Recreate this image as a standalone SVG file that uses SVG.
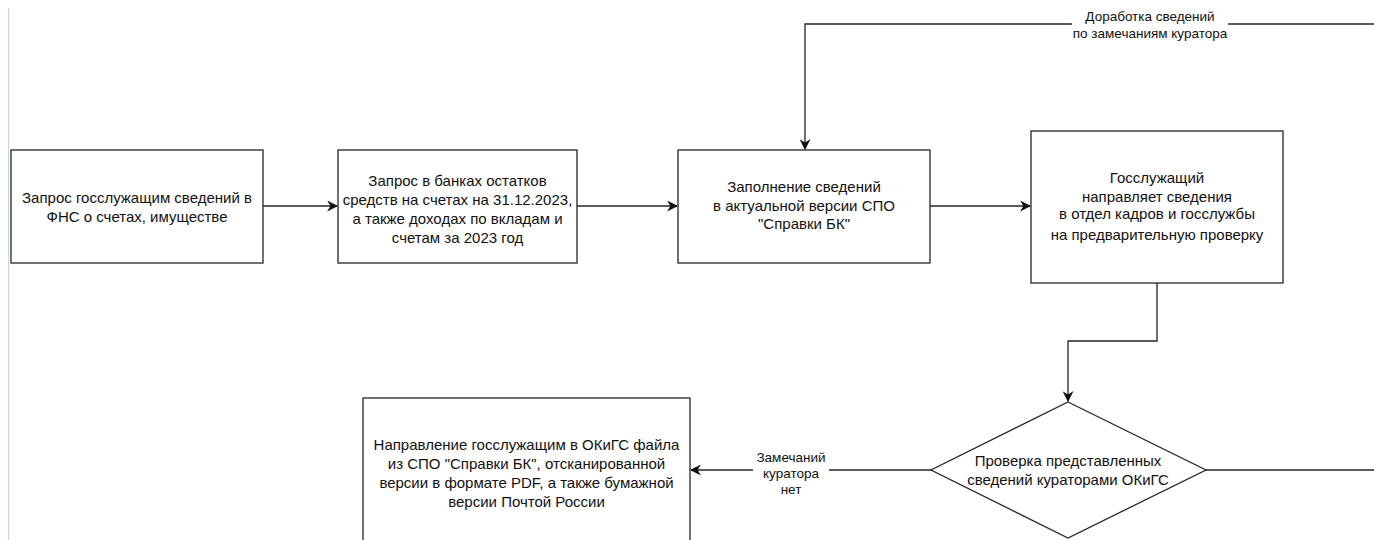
<svg xmlns="http://www.w3.org/2000/svg" width="1374" height="540" viewBox="0 0 1374 540">
<style>
.box{fill:#fff;stroke:#262626;stroke-width:1.3}
.t{font-family:"Liberation Sans",Arial,sans-serif;font-size:15px;fill:#111;text-anchor:middle}
.lbl{font-family:"Liberation Sans",Arial,sans-serif;font-size:13.5px;fill:#111;text-anchor:middle}
.c{fill:none;stroke:#262626;stroke-width:1.3}
</style>
<defs>
<marker id="ar" viewBox="0 0 10 10" refX="9" refY="5" markerWidth="11" markerHeight="11" markerUnits="userSpaceOnUse" orient="auto">
<path d="M0,0 L10,5 L0,10 L3,5 Z" fill="#111"/>
</marker>
</defs>
<rect width="1374" height="540" fill="#fff"/>
<line x1="8.5" y1="8" x2="8.5" y2="540" stroke="#c9d3e3" stroke-width="1.2"/>
<g id="connectors">
<line class="c" x1="263" y1="206" x2="337" y2="206" marker-end="url(#ar)"/>
<line class="c" x1="577" y1="206" x2="677" y2="206" marker-end="url(#ar)"/>
<line class="c" x1="930" y1="206" x2="1030" y2="206" marker-end="url(#ar)"/>
<polyline class="c" points="1157,283 1157,341 1068,341 1068,401" marker-end="url(#ar)"/>
<line class="c" x1="931" y1="470" x2="691" y2="470" marker-end="url(#ar)"/>
<line class="c" x1="1206" y1="470" x2="1374" y2="470"/>
<polyline class="c" points="1374,24 805,24 805,149" marker-end="url(#ar)"/>
<rect x="753" y="446" width="76" height="50" fill="#fff"/>
<text class="lbl" x="791" y="462">Замечаний</text>
<text class="lbl" x="791" y="478">куратора</text>
<text class="lbl" x="791" y="494">нет</text>
<rect x="1072" y="6" width="156" height="36" fill="#fff"/>
<text class="lbl" x="1150" y="21">Доработка сведений</text>
<text class="lbl" x="1150" y="38">по замечаниям куратора</text>
</g>
<g id="n1">
<rect class="box" x="11" y="150" width="252" height="113"/>
<text class="t" x="137" y="203">Запрос госслужащим сведений в</text>
<text class="t" x="137" y="222">ФНС о счетах, имуществе</text>
</g>
<g id="n2">
<rect class="box" x="338" y="150" width="239" height="113"/>
<text class="t" x="457.5" y="186">Запрос в банках остатков</text>
<text class="t" x="457.5" y="205">средств на счетах на 31.12.2023,</text>
<text class="t" x="457.5" y="224">а также доходах по вкладам и</text>
<text class="t" x="457.5" y="243">счетам за 2023 год</text>
</g>
<g id="n3">
<rect class="box" x="678" y="150" width="252" height="113"/>
<text class="t" x="804" y="192">Заполнение сведений</text>
<text class="t" x="804" y="211">в актуальной версии СПО</text>
<text class="t" x="804" y="229">"Справки БК"</text>
</g>
<g id="n4">
<rect class="box" x="1031" y="131" width="252" height="152"/>
<text class="t" x="1157" y="183">Госслужащий</text>
<text class="t" x="1157" y="202">направляет сведения</text>
<text class="t" x="1157" y="219">в отдел кадров и госслужбы</text>
<text class="t" x="1157" y="240">на предварительную проверку</text>
</g>
<g id="n5">
<polygon class="box" points="1068,402 1206,470 1068,538 931,470"/>
<text class="t" x="1068" y="466">Проверка представленных</text>
<text class="t" x="1068" y="485">сведений кураторами ОКиГС</text>
</g>
<g id="n6">
<rect class="box" x="363" y="398" width="327" height="150"/>
<text class="t" x="526.5" y="450">Направление госслужащим в ОКиГС файла</text>
<text class="t" x="526.5" y="469">из СПО "Справки БК", отсканированной</text>
<text class="t" x="526.5" y="488">версии в формате PDF, а также бумажной</text>
<text class="t" x="526.5" y="507">версии Почтой России</text>
</g>
</svg>
